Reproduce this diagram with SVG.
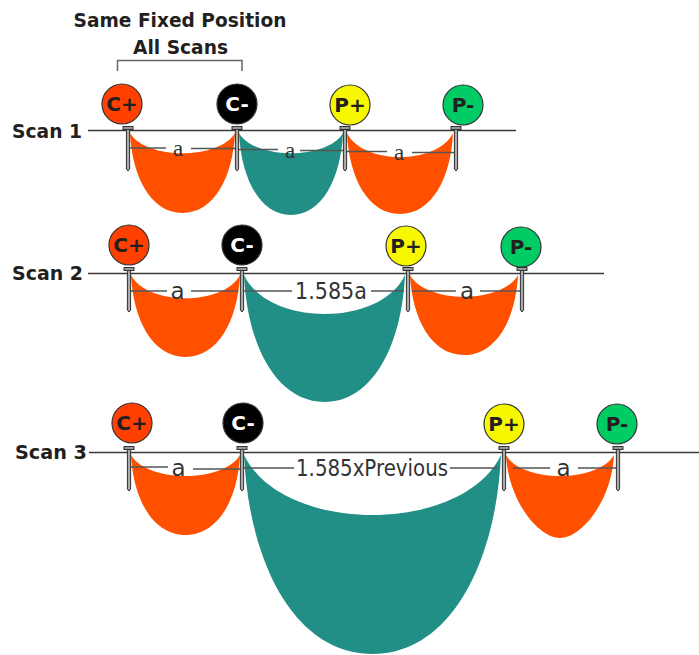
<svg xmlns="http://www.w3.org/2000/svg" xmlns:xlink="http://www.w3.org/1999/xlink" width="699" height="655" viewBox="0 0 699 655">
<style>
.orange{fill:#ff5000}
.teal{fill:#218f85}
.scan{stroke:#3a3a3a;stroke-width:1.3;fill:none}
.dim{stroke:#555;stroke-width:1.5;fill:none}
.bracket{stroke:#666;stroke-width:1.5;fill:none}
.bold{font-family:"DejaVu Sans","Liberation Sans",sans-serif;font-weight:bold;fill:#231f20}
.lbl{font-family:"DejaVu Sans","Liberation Sans",sans-serif;font-weight:bold;font-size:20px;text-anchor:middle}
.ser{font-family:"Liberation Serif",serif;font-size:23px;fill:#333;text-anchor:middle}
.sans{font-family:"DejaVu Sans","Liberation Sans",sans-serif;font-size:23px;fill:#333}
.circ{stroke:#333;stroke-width:1.2}
</style>
<defs>
<g id="pin">
<rect x="-5" y="-4.5" width="10" height="3" fill="#999" stroke="#333" stroke-width="1"/>
<path d="M-1.6,-1.5 L1.6,-1.5 L1.6,38 L0,40 L-1.6,38 Z" fill="#aaa" stroke="#333" stroke-width="1"/>
</g>
</defs>
<rect width="699" height="655" fill="#fff"/>

<g id="title">
<text class="bold" x="180" y="27" font-size="20" text-anchor="middle" textLength="213" lengthAdjust="spacingAndGlyphs">Same Fixed Position</text>
<text class="bold" x="180.5" y="54" font-size="20" text-anchor="middle" textLength="95" lengthAdjust="spacingAndGlyphs">All Scans</text>
<path class="bracket" d="M117.5,71 V60.5 H242 V71"/>
</g>

<g id="basins">
<path class="orange" d="M130,133 C145.75,160 219.25,160 235,133 C232.9,177 214,213 182.5,213 C151,213 132.1,177 130,133Z"/>
<path class="teal" d="M239,133 C254.6,160 327.4,160 343,133 C340.9,178 322.2,215 291,215 C259.8,215 241.1,178 239,133Z"/>
<path class="orange" d="M347,133 C362.9,165 437.1,165 453,133 C450.9,178 431.8,214 400,214 C368.2,214 349.1,178 347,133Z"/>

<path class="orange" d="M131,275 C147.4,306 223.6,306 240,275 C237.8,320 218.2,357 185.5,357 C152.8,357 133.2,320 131,275Z"/>
<path class="teal" d="M244,275 C268.2,327 380.8,327 405,275 C401.8,345 372.8,402 324.5,402 C276.2,402 247.2,345 244,275Z"/>
<path class="orange" d="M410,275 C426.2,304 501.8,304 518,275 C515.8,319 496.4,355 464,355 C431.6,355 412.2,319 410,275Z"/>

<path class="orange" d="M131,455 C147.4,483 223.6,483 240,455 C237.8,499 218.2,535 185.5,535 C152.8,535 133.2,499 131,455Z"/>
<path class="teal" d="M244,455 C282.6,535 462.4,535 501,455 C495.9,564.5 449.6,654 372.5,654 C295.4,654 249.1,564.5 244,455Z"/>
<path class="orange" d="M506,455 C522.2,483 597.8,483 614,455 C611.8,500.6 581.6,538 560,538 C538.4,538 508.2,500.6 506,455Z"/>
</g>

<g id="connectors">
<path class="scan" d="M88,130.5 H516"/>
<path class="scan" d="M88,273.5 H604"/>
<path class="scan" d="M89,452.5 H699"/>

<path class="dim" d="M128,148 H166 M191,148.5 H237"/>
<path class="dim" d="M238,149.5 H278 M300,150.5 H345"/>
<path class="dim" d="M347,151.5 H387 M412,152.5 H457"/>

<path class="dim" d="M130,291 H167 M191,291 H238"/>
<path class="dim" d="M244,291 H292 M371,291 H404"/>
<path class="dim" d="M412,291 H456 M480,291 H520"/>

<path class="dim" d="M131,467 H168 M193,469 H240"/>
<path class="dim" d="M243,468 H294 M450,468 H497"/>
<path class="dim" d="M513,468 H550 M578,468 H617"/>

<text class="ser" x="178" y="156">a</text>
<text class="ser" x="290" y="158">a</text>
<text class="ser" x="399" y="160">a</text>

<text class="sans" x="177.5" y="299" text-anchor="middle">a</text>
<text class="sans" x="295" y="299" textLength="72" lengthAdjust="spacingAndGlyphs">1.585a</text>
<text class="sans" x="467" y="299" text-anchor="middle">a</text>

<text class="sans" x="178.5" y="476" text-anchor="middle">a</text>
<text class="sans" x="296" y="476" textLength="152" lengthAdjust="spacingAndGlyphs">1.585xPrevious</text>
<text class="sans" x="563.5" y="476" text-anchor="middle">a</text>
</g>

<g id="scan-labels">
<text class="bold" x="12" y="138" font-size="20" textLength="70" lengthAdjust="spacingAndGlyphs">Scan 1</text>
<text class="bold" x="12" y="280" font-size="20" textLength="71" lengthAdjust="spacingAndGlyphs">Scan 2</text>
<text class="bold" x="15" y="459" font-size="20" textLength="72" lengthAdjust="spacingAndGlyphs">Scan 3</text>
</g>

<g id="s1-cplus"><use xlink:href="#pin" x="128" y="131"/><circle class="circ" cx="122" cy="104" r="20" fill="#ff4000"/><text class="lbl" x="122" y="111" fill="#231f20">C+</text></g>
<g id="s1-cminus"><use xlink:href="#pin" x="237" y="131"/><circle class="circ" cx="237" cy="104" r="20" fill="#000"/><text class="lbl" x="237" y="111" fill="#fff">C-</text></g>
<g id="s1-pplus"><use xlink:href="#pin" x="345" y="131"/><circle class="circ" cx="350" cy="105" r="20" fill="#f7f700"/><text class="lbl" x="350" y="112" fill="#231f20">P+</text></g>
<g id="s1-pminus"><use xlink:href="#pin" x="456" y="131"/><circle class="circ" cx="463" cy="105" r="20" fill="#00cc66"/><text class="lbl" x="463" y="112" fill="#231f20">P-</text></g>

<g id="s2-cplus"><use xlink:href="#pin" x="129" y="272"/><circle class="circ" cx="129" cy="245" r="20" fill="#ff4000"/><text class="lbl" x="129" y="252" fill="#231f20">C+</text></g>
<g id="s2-cminus"><use xlink:href="#pin" x="242" y="272"/><circle class="circ" cx="242" cy="245" r="20" fill="#000"/><text class="lbl" x="242" y="252" fill="#fff">C-</text></g>
<g id="s2-pplus"><use xlink:href="#pin" x="408" y="272"/><circle class="circ" cx="406" cy="246" r="20" fill="#f7f700"/><text class="lbl" x="406" y="253" fill="#231f20">P+</text></g>
<g id="s2-pminus"><use xlink:href="#pin" x="522" y="272"/><circle class="circ" cx="521" cy="247" r="20" fill="#00cc66"/><text class="lbl" x="521" y="254" fill="#231f20">P-</text></g>

<g id="s3-cplus"><use xlink:href="#pin" x="129" y="451"/><circle class="circ" cx="132" cy="423" r="20" fill="#ff4000"/><text class="lbl" x="132" y="430" fill="#231f20">C+</text></g>
<g id="s3-cminus"><use xlink:href="#pin" x="242" y="451"/><circle class="circ" cx="243" cy="423" r="20" fill="#000"/><text class="lbl" x="243" y="430" fill="#fff">C-</text></g>
<g id="s3-pplus"><use xlink:href="#pin" x="504" y="451"/><circle class="circ" cx="504" cy="424" r="20" fill="#f7f700"/><text class="lbl" x="504" y="431" fill="#231f20">P+</text></g>
<g id="s3-pminus"><use xlink:href="#pin" x="618" y="451"/><circle class="circ" cx="617" cy="424" r="20" fill="#00cc66"/><text class="lbl" x="617" y="431" fill="#231f20">P-</text></g>
</svg>
